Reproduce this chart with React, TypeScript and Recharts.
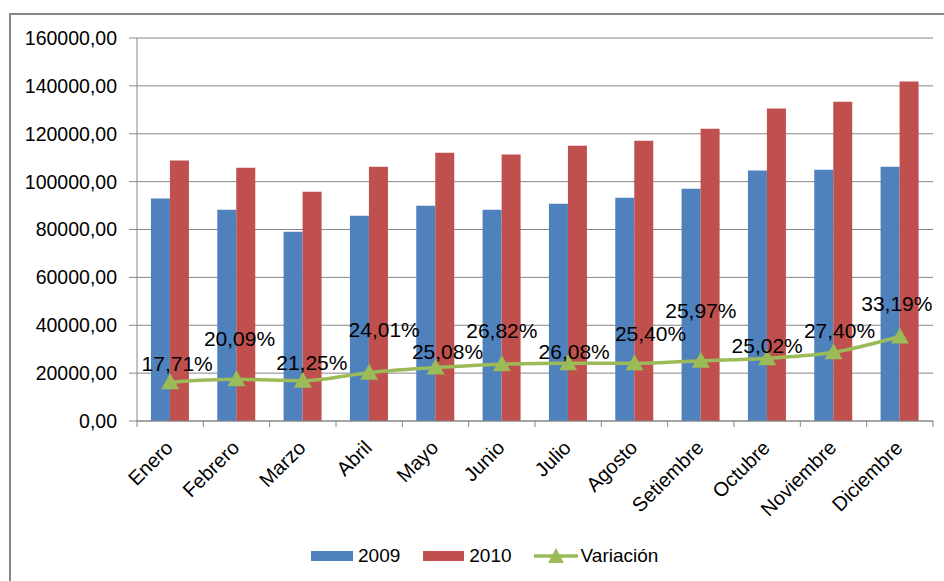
import React from 'react';
import { ComposedChart, Bar, Line, XAxis, YAxis, CartesianGrid, Legend, LabelList } from 'recharts';

const months = ['Enero', 'Febrero', 'Marzo', 'Abril', 'Mayo', 'Junio', 'Julio', 'Agosto', 'Setiembre', 'Octubre', 'Noviembre', 'Diciembre'];
const values2009 = [92900, 88200, 79100, 85700, 89900, 88200, 90800, 93300, 97000, 104600, 105000, 106200];
const values2010 = [108800, 105800, 95800, 106200, 112100, 111300, 115000, 117100, 122100, 130500, 133400, 141800];
const variacion = [16200, 17400, 16800, 20200, 22300, 23700, 24100, 24100, 25200, 26200, 28700, 35300];
const variacionLabels = ['17,71%', '20,09%', '21,25%', '24,01%', '25,08%', '26,82%', '26,08%', '25,40%', '25,97%', '25,02%', '27,40%', '33,19%'];
const yTicks = [0, 20000, 40000, 60000, 80000, 100000, 120000, 140000, 160000];

// label nudges (px) so the percentages sit like in the spreadsheet
const LABEL_NUDGE: [number, number][] = [
  [7, -19], [3, -41], [9, -18], [15, -43], [12, -16], [0, -34],
  [6, -12], [16, -30], [0, -50], [0, -13], [6, -22], [-3, -33],
];

const W = 944;
const H = 581;
const M = { top: 38, right: 11, left: 0, bottom: 0 };
const Y_AXIS_W = 137;
const BAND = (W - M.right - Y_AXIS_W) / months.length;

const FONT = '"Liberation Sans", Arial, sans-serif';
const BLUE = '#4F81BD';
const RED = '#C0504D';
const GREEN = '#9BBB59';
const GRID = '#868686';

const data = months.map((m, i) => ({
  month: m,
  y2009: values2009[i],
  y2010: values2010[i],
  variacion: variacion[i],
  label: variacionLabels[i],
}));

const fmt = (v: number) => v.toLocaleString('es-ES', { minimumFractionDigits: 2, useGrouping: false }).replace('.', ',');

function MonthTick(props: any) {
  const { x, y, payload, index } = props;
  const left = x - BAND / 2;
  return (
    <g>
      <line x1={left} y1={y} x2={left} y2={y + 6} stroke={GRID} />
      {index === months.length - 1 && <line x1={x + BAND / 2} y1={y} x2={x + BAND / 2} y2={y + 6} stroke={GRID} />}
      <text
        x={x + 4}
        y={y + 28}
        textAnchor="end"
        transform={`rotate(-45, ${x + 4}, ${y + 28})`}
        fontSize={20}
        fontFamily={FONT}
        fill="#000"
      >
        {payload.value}
      </text>
    </g>
  );
}

function Triangle(props: any) {
  const { cx, cy } = props;
  if (cx == null || cy == null) return null;
  return <polygon points={`${cx},${cy - 9} ${cx - 9},${cy + 7} ${cx + 9},${cy + 7}`} fill={GREEN} />;
}

function PctLabel(props: any) {
  const { x, y, value, index } = props;
  const [dx, dy] = LABEL_NUDGE[index] || [0, -20];
  return (
    <text x={x + dx} y={y + dy} textAnchor="middle" dominantBaseline="central" fontSize={21} fontFamily={FONT} fill="#000">
      {value}
    </text>
  );
}

function LegendContent() {
  const txt: React.CSSProperties = { fontSize: 19, fontFamily: FONT, color: '#000', lineHeight: '20px' };
  return (
    <div style={{ display: 'flex', alignItems: 'center', paddingLeft: 311 }}>
      <span style={{ width: 42, height: 10, background: BLUE, display: 'inline-block' }} />
      <span style={{ ...txt, marginLeft: 5 }}>2009</span>
      <span style={{ width: 41, height: 10, background: RED, display: 'inline-block', marginLeft: 23 }} />
      <span style={{ ...txt, marginLeft: 5 }}>2010</span>
      <svg width={44} height={20} style={{ marginLeft: 22 }}>
        <line x1={0} y1={10} x2={44} y2={10} stroke={GREEN} strokeWidth={3.5} />
        <polygon points="22,2 14,17 30,17" fill={GREEN} />
      </svg>
      <span style={{ ...txt, marginLeft: 3 }}>Variación</span>
    </div>
  );
}

export default function App() {
  return (
    <div style={{ position: 'fixed', left: 0, top: 0, width: W, height: H, overflow: 'hidden', background: '#fff' }}>
      <div
        style={{
          position: 'absolute', left: 9, top: 13, width: W + 20, height: H + 20,
          border: '2px solid #878787', boxSizing: 'border-box',
        }}
      />
      <ComposedChart width={W} height={H} data={data} margin={M} barCategoryGap="21%" barGap={0}
        style={{ position: 'absolute', left: 0, top: 0 }}>
        <CartesianGrid vertical={false} stroke={GRID} />
        <XAxis
          dataKey="month"
          height={H - 421 - M.bottom}
          tickLine={false}
          tickSize={0}
          tickMargin={0}
          stroke={GRID}
          interval={0}
          tick={<MonthTick />}
        />
        <YAxis
          width={Y_AXIS_W}
          domain={[0, 160000]}
          ticks={yTicks}
          tickFormatter={fmt}
          tickSize={8}
          tickMargin={12}
          stroke={GRID}
          tick={{ fontSize: 19.5, fontFamily: FONT, fill: '#000' }}
        />
        <Bar dataKey="y2009" name="2009" fill={BLUE} isAnimationActive={false} />
        <Bar dataKey="y2010" name="2010" fill={RED} isAnimationActive={false} />
        <Line
          dataKey="variacion"
          name="Variación"
          type="monotone"
          stroke={GREEN}
          strokeWidth={3.5}
          dot={<Triangle />}
          activeDot={false}
          isAnimationActive={false}
        >
          <LabelList dataKey="label" content={<PctLabel />} />
        </Line>
        <Legend
          layout="horizontal"
          verticalAlign="middle"
          align="center"
          wrapperStyle={{ left: 0, top: 546, width: W }}
          content={<LegendContent />}
        />
      </ComposedChart>
    </div>
  );
}
